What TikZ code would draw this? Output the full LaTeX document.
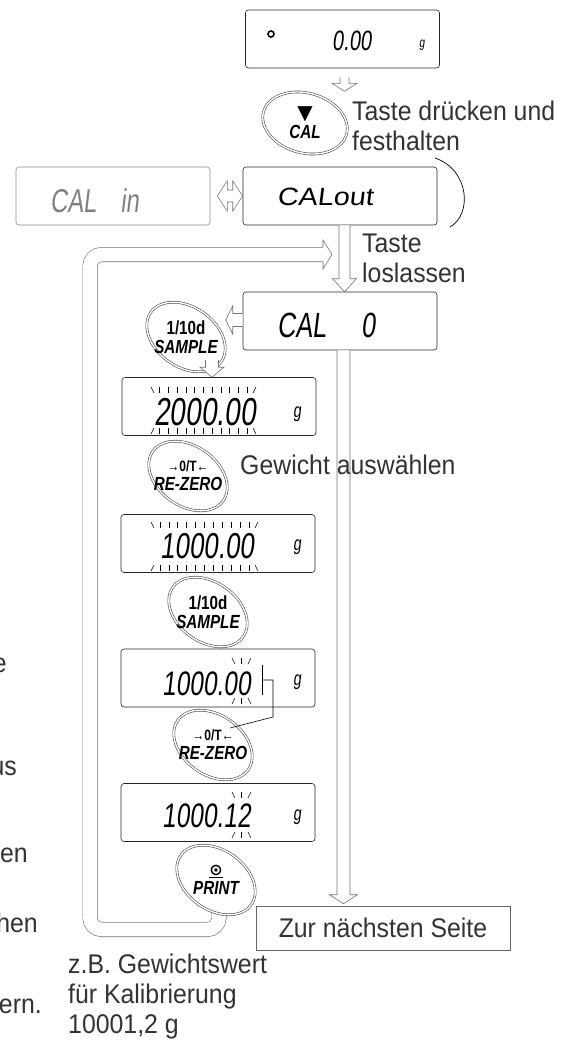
\documentclass[tikz,border=0pt]{standalone}
\usepackage{fontspec}
\setmainfont{Liberation Sans}[FakeStretch=0.92]
\newfontfamily\lcdfont{Liberation Sans}[FakeStretch=0.72,FakeSlant=0.12]
\newfontfamily\lcdwide{Liberation Sans}[FakeStretch=1.15,FakeSlant=0.12]
\newfontfamily\keyfont{Liberation Sans}[FakeStretch=0.8]
\newfontfamily\symfont{DejaVu Sans}
\usetikzlibrary{shapes,arrows,positioning,calc}

\tikzset{
  note/.style={font=\fontsize{27}{30}\selectfont, text=black!80, inner sep=0pt, anchor=base west, align=left},
  lcd/.style={draw=black!85, line width=0.6pt, rounded corners=3pt, minimum width=194pt, minimum height=58pt, inner sep=0pt},
  seg/.style={inner sep=0pt, anchor=base west},
  key/.style={ellipse, minimum width=80pt, minimum height=68pt, inner sep=0pt, align=center, font=\keyfont\bfseries\fontsize{19}{19}\selectfont},
  ring/.style={draw=black!70, line width=0.6pt, double=white, double distance=1.4pt, fill=white},
  hollow/.style={draw=black!55, line width=0.6pt, fill=white},
  loopline/.style={draw=black!55, line width=0.6pt, double=white, double distance=13.8pt},
  tick/.style={line width=0.6pt},
}

% hollow arrows: start, tip, shaft half width, head half width, head length
\newcommand{\blockdown}[5]{%
  \draw[hollow] let \p1=#1, \p2=#2 in
    (\x2-#3pt,\y1) -- (\x2-#3pt,\y2+#5pt) -- (\x2-#4pt,\y2+#5pt) -- (\x2,\y2)
    -- (\x2+#4pt,\y2+#5pt) -- (\x2+#3pt,\y2+#5pt) -- (\x2+#3pt,\y1);}
\newcommand{\blockleft}[5]{%
  \draw[hollow] let \p1=#1, \p2=#2 in
    (\x1,\y2+#3pt) -- (\x2+#5pt,\y2+#3pt) -- (\x2+#5pt,\y2+#4pt) -- (\x2,\y2)
    -- (\x2+#5pt,\y2-#4pt) -- (\x2+#5pt,\y2-#3pt) -- (\x1,\y2-#3pt);}
% blinking marks: left x, right x, number of straight marks, top y, bottom y
\newcommand{\blink}[5]{%
  \draw[tick] (#1,#4) -- ++(3,6) (#2,#4) -- ++(-3,6) (#1,#5) -- ++(3,-6) (#2,#5) -- ++(-3,-6);
  \foreach \i in {1,...,#3}
    \draw[tick] ({#1+(#2-#1)*\i/(#3+1)},#4) -- ++(0,6) ({#1+(#2-#1)*\i/(#3+1)},#5) -- ++(0,-6);}
% key: name, centre, tilt, text
\newcommand{\keybutton}[4]{%
  \draw[ring] #2 ellipse [x radius=43pt, y radius=30pt, rotate=#3];
  \node[key] (#1) at #2 {#4};}

\begin{document}
\begin{tikzpicture}[x=1pt,y=-1pt]
\useasboundingbox (0,0) rectangle (576,1045);
\clip (0,0) rectangle (576,1045);

% Displays
\node[lcd] (zerobox) at (342.5,39) {};
\node[lcd, draw=black!45] (calinbox) at (113,196) {};
\node[lcd] (caloutbox) at (340,196) {};
\node[lcd] (calzerobox) at (340,321) {};
\node[lcd] (spanbox) at (219,406.5) {};
\node[lcd] (weightbox) at (218,543.5) {};
\node[lcd] (digitbox) at (218,678) {};
\node[lcd] (resultbox) at (218,812.5) {};
\node[draw=black!60, line width=0.6pt, minimum width=254pt, minimum height=44pt, inner sep=0pt,
      font=\fontsize{27}{30}\selectfont, text=black!80] (next) at (383,928) {Zur nächsten Seite};

% Display readings
\draw[line width=1.6pt] (271,34) circle (3pt);
\node[seg, font=\lcdfont\fontsize{28}{28}\selectfont] (zeroread) at (332,50) {0.00};
\node[seg, font=\lcdfont\fontsize{14}{14}\selectfont] at (419,47) {g};
\node[seg, text=black!50, font=\lcdfont\fontsize{33}{33}\selectfont] (calin) at (50,212) {CAL\hspace{24pt}in};
\node[seg, font=\lcdwide\fontsize{25}{25}\selectfont] (calout) at (277,205) {CALout};
\node[seg, font=\lcdfont\fontsize{35}{35}\selectfont] (calzero) at (277,337) {CAL\hspace{35pt}0};
\node[seg, font=\lcdfont\fontsize{39}{39}\selectfont] (span) at (154,425) {2000.00};
\node[seg, font=\lcdfont\fontsize{20}{20}\selectfont] at (293,417) {g};
\blink{151}{256}{11}{387}{434}
\node[seg, font=\lcdfont\fontsize{36}{36}\selectfont] (weight) at (160,558) {1000.00};
\node[seg, font=\lcdfont\fontsize{20}{20}\selectfont] at (293,550) {g};
\blink{151}{258}{11}{522}{571}
\node[seg, font=\lcdfont\fontsize{34}{34}\selectfont] (digit) at (162,695) {1000.00};
\node[seg, font=\lcdfont\fontsize{20}{20}\selectfont] at (293,685) {g};
\blink{232}{251}{1}{658}{704}
\node[seg, font=\lcdfont\fontsize{34}{34}\selectfont] (result) at (162,827) {1000.12};
\node[seg, font=\lcdfont\fontsize{20}{20}\selectfont] at (293,820) {g};
\blink{232}{251}{1}{792}{838}

% Return loop
\coordinate (back) at (332,254.5);
\draw[loopline, rounded corners=12pt] ($(resultbox.south)+(1,48)$) |- (90,929.5) |- ($(back)+(-9,0)$);
\draw[hollow] let \p1=(back) in (\x1-9pt,\y1+7.2pt) -- (\x1-9pt,\y1+14.5pt) -- (\x1,\y1)
  -- (\x1-9pt,\y1-14.5pt) -- (\x1-9pt,\y1-7.2pt);

% Arrows
\blockdown{($(zerobox.south)+(2,9)$)}{($(zerobox.south)+(2,23)$)}{4.5}{12.5}{8}
\blockdown{($(caloutbox.south)+(4.5,0)$)}{($(calzerobox.north)+(4.5,0)$)}{5.5}{12}{13}
\blockdown{($(calzerobox.south)+(3.5,0)$)}{($(calzerobox.south |- next.north)+(3.5,-2)$)}{6.5}{14}{9}
\draw[hollow] let \p1=(calinbox.east), \p2=(caloutbox.west) in
  (\x1+7pt,\y1) -- (\x1+17pt,\y1+15pt) -- (\x1+17pt,\y1+6pt) -- (\x2-10pt,\y1+6pt)
  -- (\x2-10pt,\y1+15pt) -- (\x2,\y1) -- (\x2-10pt,\y1-15pt) -- (\x2-10pt,\y1-6pt)
  -- (\x1+17pt,\y1-6pt) -- (\x1+17pt,\y1-15pt) -- cycle;

% Keys
\keybutton{cal}{(305,123)}{-15}{{\symfont\fontsize{20}{20}\selectfont ▼}\\{\itshape CAL}}
\keybutton{sampleone}{(186,337)}{-35}{1/10d\\{\itshape SAMPLE}}
\keybutton{rezeroone}{(188,476)}{-35}{{\fontsize{15}{15}\selectfont →0/T←}\\{\itshape RE-ZERO}}
\keybutton{sampletwo}{(208,612)}{-35}{1/10d\\{\itshape SAMPLE}}
\keybutton{rezerotwo}{(213,745)}{-35}{{\fontsize{15}{15}\selectfont →0/T←}\\{\itshape RE-ZERO}}
\keybutton{print}{(216,880)}{-35}{{\symfont\fontsize{16}{16}\selectfont\underline{⊙}}\\{\itshape PRINT}}

% Arrows at the first key
\blockleft{(calzerobox.west)}{($(calzerobox.west)+(-17,-1)$)}{6.5}{14}{7}
\blockdown{($(spanbox.north)+(-7,-17)$)}{($(spanbox.north)+(-7,0)$)}{6.5}{12}{10}

% Cursor
\draw[tick] (262,665) -- (262,695);
\draw[tick] (262,680) -| (273,717) -- ($(rezerotwo.center)+(17,-17)$);

% Hold bracket
\draw[line width=0.7pt] (435,158) .. controls (470,170) and (472,215) .. (450,227);

% Notes
\node[note] (hold) at (352,150) {Taste drücken und\\festhalten};
\node[note] (release) at (362,282) {Taste\\loslassen};
\node[note] (choose) at (240,474) {Gewicht auswählen};
\node[note] (example) at (68,1033) {z.B. Gewichtswert\\für Kalibrierung\\10001,2 g};
\node[note, anchor=base east] (fraga) at (7,672) {e};
\node[note, anchor=base east] (fragb) at (17,775) {us};
\node[note, anchor=base east] (fragc) at (28,862) {en};
\node[note, anchor=base east] (fragd) at (38,932) {hen};
\node[note, anchor=base east] (frage) at (42,1013) {ern.};
\end{tikzpicture}
\end{document}
